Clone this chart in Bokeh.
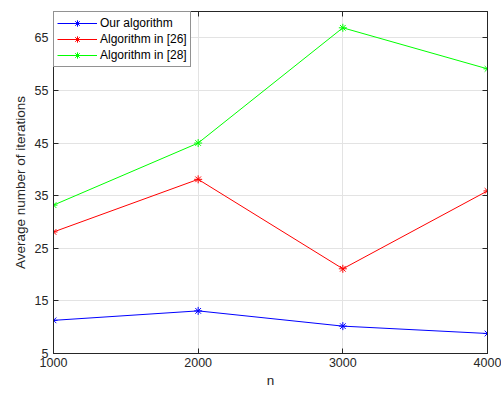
from bokeh.plotting import figure
from bokeh.models import Range1d, LinearAxis, FixedTicker, Legend, LegendItem
from bokeh.embed import file_html
from bokeh.resources import INLINE

n_values = [1000, 2000, 3000, 4000]
ours = [11.3, 13.1, 10.2, 8.8]
alg26 = [28.1, 38.1, 21.1, 35.9]
alg28 = [33.2, 45.0, 66.9, 59.1]
x_ticks = [1000, 2000, 3000, 4000]
y_ticks = [5, 15, 25, 35, 45, 55, 65]

FONT = "Liberation Sans"
AX = "#262626"

p = figure(width=501, height=394, output_backend="svg", toolbar_location=None,
           x_range=Range1d(1000, 4000), y_range=Range1d(5, 70),
           min_border_left=53, min_border_right=14, min_border_top=11, min_border_bottom=41)
p.background_fill_color = "white"
p.border_fill_color = "white"
p.outline_line_color = AX
p.outline_line_width = 1

for ax in (p.xaxis[0], p.yaxis[0]):
    ax.axis_line_color = AX
    ax.major_tick_line_color = AX
    ax.major_tick_in = 5
    ax.major_tick_out = 0
    ax.minor_tick_line_color = None
    ax.major_label_text_font = FONT
    ax.major_label_text_font_size = "12.5px"
    ax.major_label_text_color = AX
    ax.axis_label_text_font = FONT
    ax.axis_label_text_font_size = "13.5px"
    ax.axis_label_text_font_style = "normal"
    ax.axis_label_text_color = AX
p.xaxis.ticker = FixedTicker(ticks=x_ticks)
p.yaxis.ticker = FixedTicker(ticks=y_ticks)
p.xaxis.axis_label = "n"
p.yaxis.axis_label = "Average number of iterations"
p.xaxis.major_label_standoff = 4
p.yaxis.major_label_standoff = 5
p.xaxis.axis_label_standoff = 3
p.yaxis.axis_label_standoff = 4

top = LinearAxis(ticker=FixedTicker(ticks=x_ticks),
                 major_label_overrides={t: "" for t in x_ticks},
                 major_label_text_font_size="1px",
                 major_tick_in=5, major_tick_out=0, minor_tick_line_color=None,
                 axis_line_color=AX, major_tick_line_color=AX, major_label_standoff=0)
right = LinearAxis(ticker=FixedTicker(ticks=y_ticks),
                   major_label_overrides={t: "" for t in y_ticks},
                   major_label_text_font_size="1px",
                   major_tick_in=5, major_tick_out=0, minor_tick_line_color=None,
                   axis_line_color=AX, major_tick_line_color=AX, major_label_standoff=0)
p.add_layout(top, "above")
p.add_layout(right, "right")

p.xgrid.ticker = FixedTicker(ticks=x_ticks)
p.ygrid.ticker = FixedTicker(ticks=y_ticks)
p.grid.grid_line_color = "#e3e3e3"
p.grid.grid_line_width = 1

items = []
for vals, color, name in [(ours, "#0000ff", "Our algorithm"),
                          (alg26, "#ff0000", "Algorithm in [26]"),
                          (alg28, "#00ff00", "Algorithm in [28]")]:
    l = p.line(n_values, vals, line_color=color, line_width=1)
    m = p.scatter(n_values, vals, marker="asterisk", size=8, line_color=color, line_width=1)
    items.append(LegendItem(label=name, renderers=[l, m]))

leg = Legend(items=items, location="top_left")
leg.margin = 0
leg.padding = 3
leg.spacing = 0
leg.glyph_width = 40
leg.glyph_height = 16
leg.label_height = 16
leg.label_standoff = 3
leg.label_text_font = FONT
leg.label_text_font_size = "12px"
leg.label_text_color = "black"
leg.border_line_color = AX
leg.border_line_width = 1
leg.background_fill_color = "white"
leg.background_fill_alpha = 1
p.add_layout(leg)

open("out.html", "w").write(file_html(p, INLINE))
